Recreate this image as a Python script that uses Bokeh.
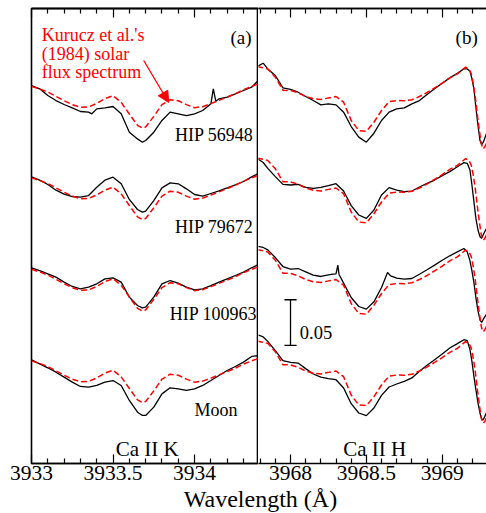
import numpy as np
from bokeh.plotting import figure
from bokeh.models import (Range1d, FixedTicker, LinearAxis, Label, Arrow, NormalHead,
                          NumeralTickFormatter, Div)
from bokeh.layouts import row, column
from bokeh.embed import file_html
from bokeh.resources import INLINE

# ---------------- data ----------------
stars = ["HIP 56948", "HIP 79672", "HIP 100963", "Moon"]
offsets = [0.3, 0.2, 0.1, 0.0]

# Ca II K panel
wl_K = [3933.00, 3933.05, 3933.10, 3933.15, 3933.20, 3933.25, 3933.30, 3933.35, 3933.40,
        3933.45, 3933.50, 3933.55, 3933.60, 3933.65, 3933.68, 3933.70, 3933.75, 3933.80,
        3933.85, 3933.90, 3933.95, 3934.00, 3934.05, 3934.10, 3934.15, 3934.20, 3934.25,
        3934.30, 3934.35, 3934.40]
solar_K = [0.1122, 0.1093, 0.1060, 0.1013, 0.0965, 0.0922, 0.0893, 0.0896, 0.0936,
           0.0987, 0.1020, 0.0947, 0.0820, 0.0696, 0.0667, 0.0678, 0.0794, 0.0922,
           0.0976, 0.0965, 0.0922, 0.0889, 0.0900, 0.0933, 0.0969, 0.1006, 0.1042,
           0.1086, 0.1122, 0.1155]

wl_K_56948 = [3933.00, 3933.05, 3933.10, 3933.15, 3933.20, 3933.25, 3933.30, 3933.35, 3933.37,
              3933.40, 3933.45, 3933.50, 3933.55, 3933.60, 3933.65, 3933.68, 3933.70, 3933.75,
              3933.80, 3933.85, 3933.90, 3933.95, 3934.00, 3934.05, 3934.10, 3934.115, 3934.13,
              3934.15, 3934.20, 3934.25, 3934.30, 3934.35, 3934.40]
obs_K_56948 = [0.1131, 0.1095, 0.1022, 0.0967, 0.0924, 0.0887, 0.0847, 0.0840, 0.0822,
               0.0876, 0.0887, 0.0902, 0.0822, 0.0621, 0.0548, 0.0512, 0.0530, 0.0621,
               0.0749, 0.0840, 0.0822, 0.0803, 0.0822, 0.0858, 0.0931, 0.1095, 0.0960,
               0.0986, 0.1004, 0.1040, 0.1077, 0.1113, 0.1204]
obs_K_79672 = [0.1133, 0.1097, 0.1049, 0.0987, 0.0944, 0.0918, 0.0911, 0.0929, 0.1020,
               0.1097, 0.1129, 0.1057, 0.0886, 0.0776, 0.0747, 0.0758, 0.0874, 0.1013,
               0.1067, 0.1057, 0.1002, 0.0940, 0.0922, 0.0951, 0.0980, 0.1013, 0.1046,
               0.1082, 0.1133, 0.1177]
obs_K_100963 = [0.1139, 0.1109, 0.1073, 0.1037, 0.0982, 0.0935, 0.0909, 0.0927, 0.0964,
                0.1018, 0.1029, 0.0982, 0.0818, 0.0727, 0.0701, 0.0709, 0.0818, 0.0964,
                0.1000, 0.0971, 0.0927, 0.0898, 0.0909, 0.0945, 0.0982, 0.1018, 0.1055,
                0.1091, 0.1139, 0.1182]
obs_K_moon = [0.1133, 0.1089, 0.1046, 0.0998, 0.0944, 0.0889, 0.0842, 0.0834, 0.0853,
              0.0889, 0.0907, 0.0853, 0.0689, 0.0561, 0.0525, 0.0525, 0.0616, 0.0761,
              0.0827, 0.0816, 0.0798, 0.0816, 0.0853, 0.0907, 0.0962, 0.1016, 0.1060,
              0.1108, 0.1170, 0.1180]

# Ca II H panel
wl_H_sun = [3967.78, 3967.85, 3967.90, 3967.95, 3968.00, 3968.05, 3968.10, 3968.15, 3968.20,
            3968.25, 3968.30, 3968.35, 3968.40, 3968.45, 3968.50, 3968.55, 3968.60, 3968.65,
            3968.70, 3968.75, 3968.80, 3968.85, 3968.90, 3968.95, 3969.00, 3969.05, 3969.10,
            3969.154, 3969.176, 3969.192, 3969.205, 3969.218, 3969.231, 3969.245, 3969.258,
            3969.269, 3969.280, 3969.295]
solar_H = [0.1339, 0.1313, 0.1222, 0.1080, 0.1077, 0.1051, 0.1011, 0.0986, 0.0978,
           0.0996, 0.1011, 0.0949, 0.0749, 0.0639, 0.0632, 0.0730, 0.0858, 0.0956,
           0.0967, 0.0964, 0.0975, 0.1011, 0.1055, 0.1106, 0.1157, 0.1215, 0.1259,
           0.1332, 0.1313, 0.1259, 0.1149, 0.1004, 0.0822, 0.0639, 0.0494, 0.0439,
           0.0457, 0.0512]

wl_H_obs = [3967.78, 3967.82, 3967.85, 3967.90, 3967.95, 3968.00, 3968.05, 3968.10, 3968.15,
            3968.20, 3968.25, 3968.30, 3968.35, 3968.40, 3968.45, 3968.50, 3968.55, 3968.60,
            3968.65, 3968.70, 3968.75, 3968.80, 3968.85, 3968.90, 3968.95, 3969.00, 3969.05,
            3969.10, 3969.143, 3969.165, 3969.183, 3969.196, 3969.209, 3969.222, 3969.236,
            3969.249, 3969.260, 3969.271, 3969.295]
obs_H_56948 = [0.1339, 0.1375, 0.1313, 0.1241, 0.1106, 0.1088, 0.1058, 0.1011, 0.0967,
               0.0920, 0.0931, 0.0920, 0.0840, 0.0683, 0.0567, 0.0512, 0.0610, 0.0749,
               0.0840, 0.0876, 0.0887, 0.0931, 0.0967, 0.1033, 0.1095, 0.1157, 0.1215,
               0.1266, 0.1313, 0.1313, 0.1288, 0.1204, 0.1095, 0.0894, 0.0694, 0.0530,
               0.0486, 0.0512, 0.0620]
obs_H_79672 = [0.1335, 0.1290, 0.1226, 0.1135, 0.1051, 0.1044, 0.1051, 0.1018, 0.1007,
               0.1018, 0.1037, 0.1058, 0.0978, 0.0818, 0.0716, 0.0679, 0.0771, 0.0935,
               0.1015, 0.0989, 0.0971, 0.0978, 0.1022, 0.1062, 0.1098, 0.1146, 0.1190,
               0.1244, 0.1288, 0.1281, 0.1208, 0.1044, 0.0862, 0.0679, 0.0552, 0.0479,
               0.0461, 0.0503, 0.0580]
wl_H_100963 = [3967.78, 3967.82, 3967.85, 3967.90, 3967.95, 3968.00, 3968.05, 3968.10, 3968.15,
               3968.20, 3968.25, 3968.28, 3968.30, 3968.312, 3968.32, 3968.35, 3968.40, 3968.45,
               3968.50, 3968.55, 3968.60, 3968.64, 3968.66, 3968.70, 3968.75, 3968.80, 3968.85,
               3968.90, 3968.95, 3969.00, 3969.05, 3969.10, 3969.143, 3969.165, 3969.183,
               3969.196, 3969.209, 3969.222, 3969.236, 3969.249, 3969.260, 3969.271, 3969.295]
obs_H_100963 = [0.1375, 0.1361, 0.1335, 0.1251, 0.1153, 0.1124, 0.1131, 0.1095, 0.1058,
                0.1044, 0.1062, 0.1069, 0.1073, 0.1168, 0.1066, 0.0971, 0.0814, 0.0716,
                0.0687, 0.0767, 0.0924, 0.1088, 0.1051, 0.1026, 0.1015, 0.1022, 0.1069,
                0.1117, 0.1168, 0.1222, 0.1270, 0.1313, 0.1350, 0.1313, 0.1215, 0.1106,
                0.0978, 0.0814, 0.0669, 0.0570, 0.0541, 0.0577, 0.0640]
obs_H_moon = [0.1410, 0.1383, 0.1335, 0.1233, 0.1124, 0.1106, 0.1098, 0.1037, 0.0978,
              0.0945, 0.0927, 0.0916, 0.0825, 0.0654, 0.0552, 0.0523, 0.0607, 0.0745,
              0.0836, 0.0869, 0.0898, 0.0935, 0.1007, 0.1073, 0.1135, 0.1197, 0.1262,
              0.1310, 0.1353, 0.1343, 0.1244, 0.1117, 0.0953, 0.0807, 0.0661, 0.0552,
              0.0486, 0.0479, 0.0570]

K_ticks = [3933.0, 3933.5, 3934.0]
K_minor = [3933.1, 3933.2, 3933.3, 3933.4, 3933.6, 3933.7, 3933.8, 3933.9,
           3934.1, 3934.2, 3934.3]
H_ticks = [3968.0, 3968.5, 3969.0]
H_minor = [3967.8, 3967.9, 3968.1, 3968.2, 3968.3, 3968.4, 3968.6, 3968.7, 3968.8,
           3968.9, 3969.1, 3969.2]
scale_bar_value = 0.05

# ---------------- plotting ----------------
SERIF = "Liberation Serif"
RED = "#ff0000"
Y_RANGE = (0.0, 0.4973)
FIG_H = 490


def make_fig(xr, width, left, ticks, minor):
    p = figure(width=width, height=FIG_H, x_range=Range1d(*xr), y_range=Range1d(*Y_RANGE),
               output_backend="svg", toolbar_location=None,
               x_axis_location=None, y_axis_location=None,
               min_border_left=left, min_border_right=0, min_border_top=8,
               min_border_bottom=27)
    p.grid.visible = False
    p.background_fill_color = "white"
    p.border_fill_color = "white"
    bottom = LinearAxis(ticker=FixedTicker(ticks=ticks, minor_ticks=minor),
                        formatter=NumeralTickFormatter(format="0.[0]"),
                        major_tick_in=9, major_tick_out=0, minor_tick_in=5, minor_tick_out=0,
                        major_label_standoff=2, major_label_text_font=SERIF,
                        major_label_text_font_size="21.5px", major_label_text_color="black",
                        axis_line_width=1.5, axis_line_color="black",
                        major_tick_line_width=1.2, minor_tick_line_width=1.2)
    p.add_layout(bottom, "below")
    # top ticks (mirrored, no labels): one axis for the long ticks, one for the short
    for pos, length in ((ticks, 9), (minor, 5)):
        top = LinearAxis(ticker=FixedTicker(ticks=[], minor_ticks=pos),
                         major_tick_in=0, major_tick_out=0, minor_tick_in=length,
                         minor_tick_out=0, major_label_standoff=0,
                         axis_line_width=1.5, axis_line_color="black",
                         minor_tick_line_width=1.2)
        p.add_layout(top, "above")
    return p


pa = make_fig((3933.0, 3934.392), 258, 31, K_ticks, K_minor)
pa.outline_line_color = "black"
pa.outline_line_width = 1.6

pb = make_fig((3967.789, 3969.292), 228, 0, H_ticks, H_minor)
pb.outline_line_color = None

obs_K = [(wl_K_56948, obs_K_56948), (wl_K, obs_K_79672), (wl_K, obs_K_100963), (wl_K, obs_K_moon)]
obs_H = [(wl_H_obs, obs_H_56948), (wl_H_obs, obs_H_79672), (wl_H_100963, obs_H_100963),
         (wl_H_obs, obs_H_moon)]

for (wk, fk), (wh, fh), off in zip(obs_K, obs_H, offsets):
    pa.line(wk, np.array(fk) + off, line_color="black", line_width=1.3)
    pa.line(wl_K, np.array(solar_K) + off, line_color=RED, line_width=1.5, line_dash="6 3")
    pb.line(wh, np.array(fh) + off, line_color="black", line_width=1.3)
    pb.line(wl_H_sun, np.array(solar_H) + off, line_color=RED, line_width=1.5, line_dash="6 3")


def lab(p, x, y, text, size, align="left", color="black"):
    p.add_layout(Label(x=x, y=y, text=text, text_font=SERIF, text_font_size=size,
                       text_align=align, text_baseline="alphabetic", text_color=color))


# panel (a) labels
lab(pa, 3934.285, 0.4655, "(a)", "19px", "center")
lab(pa, 3933.063, 0.4684, "Kurucz et al.'s", "18px", "left", RED)
lab(pa, 3933.063, 0.4481, "(1984) solar", "18px", "left", RED)
lab(pa, 3933.063, 0.4279, "flux spectrum", "18px", "left", RED)
pa.add_layout(Arrow(end=NormalHead(size=11, fill_color=RED, line_color=RED),
                    x_start=3933.688, y_start=0.4405, x_end=3933.841, y_end=0.3946,
                    line_color=RED, line_width=1.3))
lab(pa, 3934.361, 0.3585, stars[0], "18px", "right")
lab(pa, 3934.361, 0.2583, stars[1], "18px", "right")
lab(pa, 3934.384, 0.1629, stars[2], "18px", "right")
lab(pa, 3934.0, 0.0590, stars[3], "18px", "left")
lab(pa, 3933.71, 0.0161, "Ca II K", "21px", "center")

# panel (b) labels
lab(pb, 3969.161, 0.4655, "(b)", "19px", "center")
lab(pb, 3968.555, 0.0161, "Ca II H", "21px", "center")
bar_x, bar_y0, cap = 3968.0, 0.129, 0.04
pb.segment(x0=[bar_x, bar_x - cap, bar_x - cap], y0=[bar_y0, bar_y0, bar_y0 + scale_bar_value],
           x1=[bar_x, bar_x + cap, bar_x + cap], y1=[bar_y0 + scale_bar_value, bar_y0,
                                                     bar_y0 + scale_bar_value],
           line_color="black", line_width=1.3)
lab(pb, 3968.061, 0.1435, f"{scale_bar_value:.2f}", "18.5px", "left")

xlabel = Div(text=("<div style=\"position:relative;top:-3px;width:486px;box-sizing:border-box;"
                   "padding-left:35px;text-align:center;font-family:'Liberation Serif';"
                   "font-size:24px;line-height:24px;color:black;white-space:nowrap;\">"
                   "Wavelength (Å)</div>"),
             width=486, height=513 - FIG_H, margin=(0, 0, 0, 0))

layout = column(row(pa, pb, spacing=0), xlabel, spacing=0)
open("out.html", "w").write(file_html(layout, INLINE))
